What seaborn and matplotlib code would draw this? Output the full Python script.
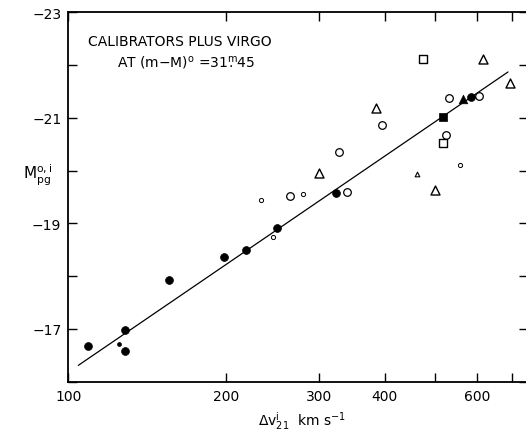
import numpy as np
import pandas as pd
import matplotlib
matplotlib.use("Agg")
import matplotlib.pyplot as plt
import seaborn as sns

# line width dv21 (km/s) and absolute magnitude
filled_v = [108.9, 128.4, 128.0, 155.7, 197.8, 217.6, 249.8, 323.1, 583.7]
filled_m = [-16.68, -16.98, -16.59, -17.92, -18.36, -18.50, -18.91, -19.57, -21.39]
dot_v = [125.1]
dot_m = [-16.71]
open_v = [264.5, 339.5, 327.9, 394.8, 531.6, 605.3, 524.0]
open_m = [-19.52, -19.60, -20.35, -20.86, -21.38, -21.42, -20.67]
small_open_v = [244.8, 232.3, 279.6, 557.9]
small_open_m = [-18.74, -19.44, -19.56, -20.11]
tri_v = [299.9, 384.6, 617.0, 693.4, 498.0]
tri_m = [-19.96, -21.19, -22.11, -21.66, -19.63]
small_tri_v = [460.2]
small_tri_m = [-19.94]
sq_v = [472.4, 516.3]
sq_m = [-22.12, -20.53]
filled_sq_v = [516.3]
filled_sq_m = [-21.02]
filled_tri_v = [564.3]
filled_tri_m = [-21.35]

# fitted relation (end points)
fit_v = [104.5, 687.0]
fit_m = [-16.31, -21.87]

xticks = [100, 200, 300, 400, 500, 600, 700]
xticklabels = ["100", "200", "300", "400", "", "600", ""]
yticks = [-23, -22, -21, -20, -19, -18, -17, -16]
yticklabels = ["\u221223", "", "\u221221", "", "\u221219", "", "\u221217", ""]

sns.set_style("ticks")
plt.rcParams['font.family'] = ['DejaVu Sans']
plt.rcParams['text.color'] = 'black'
plt.rcParams['axes.labelcolor'] = 'black'
plt.rcParams['xtick.color'] = 'black'
plt.rcParams['ytick.color'] = 'black'

fig = plt.figure(figsize=(5.26, 4.31), dpi=100)
ax = fig.add_axes([0.1298, 0.112, 0.874, 0.857])
ax.set_xscale("log")

sns.lineplot(x=fit_v, y=fit_m, ax=ax, color="black", linewidth=0.9, sort=False)

k = dict(ax=ax, edgecolor="black", legend=False, zorder=3)
sns.scatterplot(x=filled_v, y=filled_m, marker="o", s=32, color="black", linewidth=0.5, **k)
sns.scatterplot(x=dot_v, y=dot_m, marker="o", s=8, color="black", linewidth=0.5, **k)
sns.scatterplot(x=open_v, y=open_m, marker="o", s=30, color="white", linewidth=0.9, **k)
sns.scatterplot(x=small_open_v, y=small_open_m, marker="o", s=9, color="white", linewidth=0.7, **k)
sns.scatterplot(x=tri_v, y=tri_m, marker="^", s=42, color="white", linewidth=1.0, **k)
sns.scatterplot(x=small_tri_v, y=small_tri_m, marker="^", s=11, color="white", linewidth=0.8, **k)
sns.scatterplot(x=sq_v, y=sq_m, marker="s", s=26, color="white", linewidth=1.0, **k)
sns.scatterplot(x=filled_sq_v, y=filled_sq_m, marker="s", s=28, color="black", linewidth=0.5, **k)
sns.scatterplot(x=filled_tri_v, y=filled_tri_m, marker="^", s=38, color="black", linewidth=0.5, **k)

ax.set_xlim(100, 750)
ax.set_ylim(-16, -23)
ax.xaxis.set_minor_locator(matplotlib.ticker.NullLocator())
ax.set_xticks(xticks)
ax.set_xticklabels(xticklabels)
ax.set_yticks(yticks)
ax.set_yticklabels(yticklabels)
ax.tick_params(which="both", direction="in", top=True, right=True,
               length=6.5, width=1.0, labelsize=10, pad=5, color="black",
               labelcolor="black")

for sp in ax.spines.values():
    sp.set_linewidth(1.3)
    sp.set_color("black")

ax.set_xlabel(r"$\Delta$v$^{\mathrm{i}}_{21}$  km s$^{-1}$", fontsize=10)
ax.xaxis.set_label_coords(0.508, -0.074)
ax.set_ylabel(r"M$^{\mathrm{o,i}}_{\mathrm{pg}}$", fontsize=11, rotation=0,
              ha="center", va="center")
ax.yaxis.set_label_coords(-0.066, 0.562)

fig.text(88 / 526, 1 - 42 / 431, "CALIBRATORS PLUS VIRGO", fontsize=10,
         ha="left", va="center")
fig.text(117 / 526, 1 - 62 / 431,
         r"AT (m$-$M)$^{\mathrm{o}}$ =31$\overset{\mathrm{m}}{.}$45",
         fontsize=10, ha="left", va="center")

fig.savefig("out.png", dpi=100)
